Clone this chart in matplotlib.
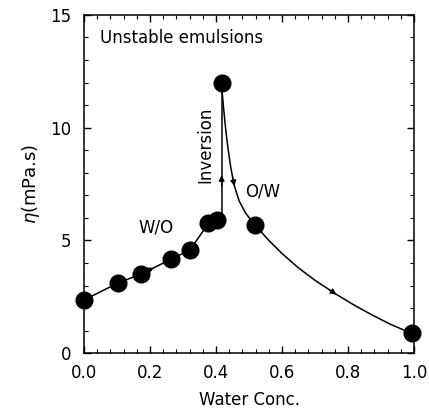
import matplotlib
matplotlib.use('Agg')
import matplotlib.pyplot as plt
from matplotlib.ticker import MultipleLocator, FormatStrFormatter

# measured points
water = [0.0, 0.104, 0.173, 0.263, 0.321, 0.377, 0.404, 0.417, 0.518, 0.993]
visc = [2.36, 3.12, 3.51, 4.16, 4.58, 5.76, 5.91, 11.98, 5.69, 0.90]

# W/O branch (line through the low-water points)
wo_x = [0.0, 0.104, 0.173, 0.263, 0.321, 0.377, 0.404, 0.417]
wo_y = [2.36, 3.12, 3.51, 4.16, 4.58, 5.76, 5.91, 6.0]

# inversion jump
inv_x = [0.417, 0.417]
inv_y = [6.0, 11.98]

# O/W branch
ow_x = [0.417, 0.419, 0.422, 0.426, 0.431, 0.437, 0.445, 0.456, 0.47, 0.49,
        0.518, 0.56, 0.60, 0.65, 0.70, 0.76, 0.82, 0.876, 0.93, 0.993]
ow_y = [11.98, 11.5, 11.0, 10.4, 9.7, 9.0, 8.2, 7.4, 6.75, 6.2,
        5.69, 5.0, 4.42, 3.78, 3.23, 2.65, 2.12, 1.67, 1.27, 0.88]

# arrow heads (tail, head) along the curves
arrows = [((0.196, 3.68), (0.212, 3.79)),
          ((0.417, 7.4), (0.417, 7.9)),
          ((0.449, 7.9), (0.456, 7.4)),
          ((0.745, 2.80), (0.765, 2.60))]

plt.rcParams['font.family'] = 'DejaVu Sans'
fig = plt.figure(figsize=(4.29, 4.15), dpi=100)
ax = fig.add_axes([0.196, 0.149, 0.769, 0.815])

ax.plot(wo_x, wo_y, '-k', lw=1.1)
ax.plot(inv_x, inv_y, '-k', lw=1.1)
ax.plot(ow_x, ow_y, '-k', lw=1.1)
ax.plot(water, visc, 'o', color='black', ms=12, clip_on=False, zorder=5)

for (x0, y0), (x1, y1) in arrows:
    ax.annotate('', xy=(x1, y1), xytext=(x0, y0),
                arrowprops=dict(arrowstyle='-|>', color='black', lw=0.8,
                                mutation_scale=9, shrinkA=0, shrinkB=0))

ax.text(0.048, 13.96, 'Unstable emulsions', fontsize=12, va='center', ha='left')
ax.text(0.164, 5.56, 'W/O', fontsize=12, va='center', ha='left')
ax.text(0.488, 7.17, 'O/W', fontsize=12, va='center', ha='left')
ax.text(0.367, 9.24, 'Inversion', fontsize=12, va='center', ha='center', rotation=90)

ax.set_xlim(0, 1.0)
ax.set_ylim(0, 15)
ax.xaxis.set_major_locator(MultipleLocator(0.2))
ax.xaxis.set_minor_locator(MultipleLocator(0.04))
ax.yaxis.set_major_locator(MultipleLocator(5))
ax.yaxis.set_minor_locator(MultipleLocator(1))
ax.xaxis.set_major_formatter(FormatStrFormatter('%.1f'))
ax.tick_params(which='both', direction='in', top=True, right=True, labelsize=12)
ax.tick_params(which='major', length=5, width=1)
ax.tick_params(which='minor', length=3, width=0.8)
ax.tick_params(axis='x', pad=8)
ax.tick_params(axis='y', pad=9)
for s in ax.spines.values():
    s.set_linewidth(1.1)

ax.set_xlabel('Water Conc.', fontsize=12, labelpad=6)
ax.set_ylabel(r'$\eta$(mPa.s)', fontsize=13, labelpad=6)

fig.savefig('out.png', dpi=100)
